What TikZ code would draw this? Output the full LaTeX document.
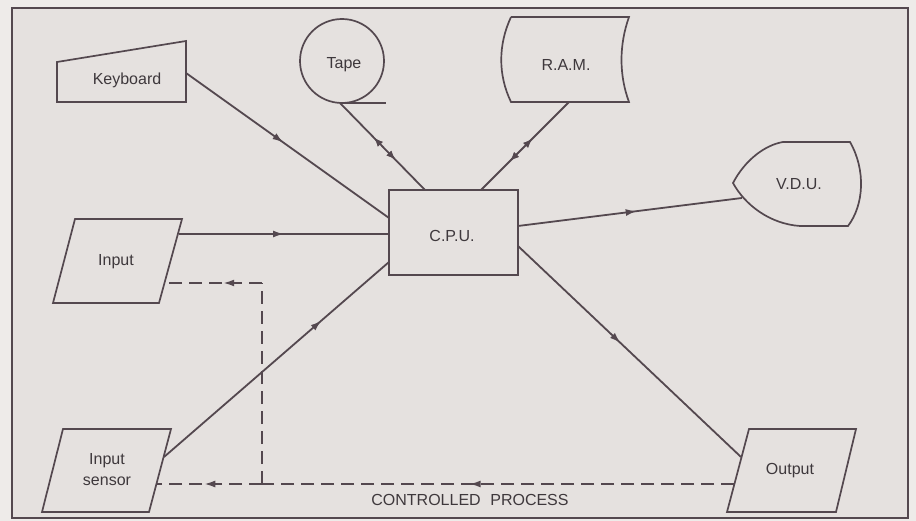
\documentclass[tikz,border=0pt]{standalone}
\usepackage{fontspec}
\setmainfont{Liberation Sans}
\usetikzlibrary{decorations.markings,arrows.meta}
\definecolor{paper}{HTML}{E5E1DF}
\definecolor{outer}{HTML}{EEEBE9}
\definecolor{ink}{HTML}{54484F}
\definecolor{txt}{HTML}{3E383C}
\tikzset{
  ln/.style={draw=ink,line width=1.8pt},
  shp/.style={draw=ink,line width=1.7pt},
  lbl/.style={text=txt,font=\fontsize{16}{18}\selectfont,inner sep=0pt},
  dsh/.style={draw=ink,line width=1.8pt,dash pattern=on 13pt off 7pt},
  fwd/.style={postaction={decorate},decoration={markings,
     mark=at position #1 with {\arrow{Latex[length=11pt,width=7pt]}}}},
  bwd/.style={postaction={decorate},decoration={markings,
     mark=at position #1 with {\arrowreversed{Latex[length=11pt,width=7pt]}}}},
  fwds/.style={postaction={decorate},decoration={markings,
     mark=at position #1 with {\arrow{Latex[length=9pt,width=7pt]}}}},
  bwds/.style={postaction={decorate},decoration={markings,
     mark=at position #1 with {\arrowreversed{Latex[length=9pt,width=7pt]}}}},
}
\begin{document}
\begin{tikzpicture}[x=1pt,y=-1pt]
\useasboundingbox (0,0) rectangle (916,521);
\fill[outer] (0,0) rectangle (916,521);
\fill[paper] (12,8) rectangle (908,518);
\draw[ink,line width=1.8pt] (12,8) rectangle (908,518);

% shapes
\draw[shp] (57,62) -- (186,41) -- (186,102) -- (57,102) -- cycle;
\node[lbl] (kb) at (127,80) {Keyboard};

\draw[shp] (342,61) circle[radius=42];
\draw[shp] (342,103) -- (386,103);
\node[lbl] (tape) at (344,65) {Tape};

\draw[shp] (511,17) -- (629,17) .. controls (619,45) and (619,75) .. (629,102)
  -- (511,102) .. controls (498,75) and (498,45) .. (511,17);
\node[lbl] (ram) at (566,65) {R.A.M.};

\draw[shp] (783,142) -- (850,142) .. controls (866,170) and (864,205) .. (848,226)
  -- (800,226) .. controls (770,224) and (745,205) .. (733,183)
  .. controls (745,160) and (765,145) .. (783,142);
\node[lbl] (vdu) at (799,184) {V.D.U.};

\draw[shp] (389,190) rectangle (518,275);
\node[lbl] (cpu) at (452,236) {C.P.U.};

\draw[shp] (75,219) -- (182,219) -- (159,303) -- (53,303) -- cycle;
\node[lbl] (in) at (116,262) {Input};

\draw[shp] (63,429) -- (171,429) -- (149,512) -- (42,512) -- cycle;
\node[lbl,align=center,font=\fontsize{16}{21}\selectfont] (sens) at (107,470) {Input\\sensor};

\draw[shp] (749,429) -- (856,429) -- (836,512) -- (727,512) -- cycle;
\node[lbl] (out) at (790,471) {Output};

\node[lbl] (proc) at (470,500) {CONTROLLED\hspace{0.6em}PROCESS};

% connection points
\coordinate (kbE) at (186,73);
\coordinate (cpuKb) at (389,218);
\coordinate (tapeB) at (340,103);
\coordinate (cpuTape) at (425,190);
\coordinate (ramB) at (569,102);
\coordinate (cpuRam) at (481,190);
\coordinate (inE) at (179,234);
\coordinate (cpuIn) at (389,234);
\coordinate (sensE) at (164,457);
\coordinate (cpuSens) at (389,262);
\coordinate (cpuVdu) at (518,226);
\coordinate (vduW) at (742,198);
\coordinate (cpuOut) at (518,246);
\coordinate (outW) at (741,457);
\coordinate (outD) at (734,484);
\coordinate (jn) at (262,484);
\coordinate (sensD) at (157,484);
\coordinate (cor) at (262,283);
\coordinate (inD) at (165,283);

% connectors
\draw[ln,fwd=0.48] (kbE) -- (cpuKb);
\draw[ln,bwds=0.40,fwds=0.65] (tapeB) -- (cpuTape);
\draw[ln,bwds=0.42,fwds=0.67] (ramB) -- (cpuRam);
\draw[ln,fwd=0.5] (inE) -- (cpuIn);
\draw[ln,fwd=0.7] (sensE) -- (cpuSens);
\draw[ln,fwd=0.53] (cpuVdu) -- (vduW);
\draw[ln,fwd=0.46] (cpuOut) -- (outW);

\draw[dsh,fwd=0.56] (outD) -- (jn);
\draw[dsh,fwd=0.55] (jn) -- (sensD);
\draw[dsh] (jn) -- (cor);
\draw[dsh,fwd=0.4] (cor) -- (inD);
\end{tikzpicture}
\end{document}
